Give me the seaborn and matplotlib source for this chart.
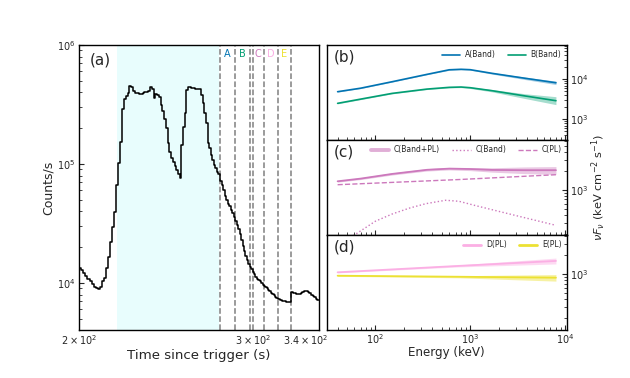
import numpy as np
import pandas as pd
import matplotlib
matplotlib.use("Agg")
import matplotlib.pyplot as plt
import matplotlib.ticker as mticker
import matplotlib.transforms as mtransforms
import seaborn as sns

# ---------------- data: light curve (1 s bins) ----------------
times = list(range(200, 351))
counts = [13500, 12800, 12200, 11500, 10900, 10300, 9800, 9300, 9000, 8900,
          9300, 10300, 11000, 13400, 16600, 22200, 29700, 39700, 66700, 101000,
          154000, 288000, 350000, 370000, 393000, 455000, 440000, 410000, 398000, 395000,
          390000, 388000, 395000, 400000, 405000, 413000, 440000, 430000, 357000, 388000,
          380000, 368000, 313000, 280000, 240000, 200000, 149000, 125000, 112000, 104000,
          97000, 89000, 83000, 77000, 145000, 205000, 267000, 419000, 447000, 440000,
          435000, 432000, 430000, 430000, 428000, 427000, 381000, 324000, 270000, 220000,
          149000, 135000, 120000, 108000, 98000, 92000, 86000, 83000, 72000, 66000,
          61000, 54000, 50000, 46000, 44000, 41000, 38500, 36000, 33500, 31000,
          28500, 26000, 23000, 20500, 18500, 17000, 15500, 14500, 13700, 13000,
          12300, 11800, 11300, 10900, 10600, 10300, 10000, 9700, 9500, 9200,
          9000, 8700, 8500, 8300, 8100, 7900, 7700, 7500, 7400, 7300,
          7200, 7100, 7000, 7000, 6950, 6900, 6900, 6880, 8450, 8400,
          8300, 8200, 8150, 8100, 8050, 8040, 8200, 8400, 8550, 8620,
          8600, 8450, 8300, 8190, 8000, 7850, 7700, 7580, 7400, 7250,
          7200]
shade_range = [218.7, 277.5]
interval_labels = ["A", "B", "C", "D", "E"]
interval_starts = [278, 288, 300, 308, 318]
interval_ends = [288, 298, 308, 318, 328]
time_ticks = [200, 300, 340]
time_ticklabels = [r"$2\times10^{2}$", r"$3\times10^{2}$", r"$3.4\times10^{2}$"]

# ---------------- data: spectra ----------------
E_ab = [40, 70, 150, 350, 600, 800, 1000, 1700, 3800, 8000]
A_mid = [4900, 6000, 8700, 13300, 17300, 17800, 17400, 14100, 10600, 8200]
A_lo = [4800, 5880, 8530, 13040, 16800, 17300, 16900, 13500, 9850, 7400]
A_hi = [5000, 6120, 8870, 13570, 17800, 18300, 17900, 14700, 11350, 9000]
B_mid = [2510, 3200, 4450, 5700, 6300, 6420, 6170, 5190, 3830, 2920]
B_lo = [2440, 3110, 4330, 5550, 6100, 6200, 5900, 4850, 3300, 2330]
B_hi = [2580, 3290, 4570, 5850, 6500, 6650, 6450, 5550, 4350, 3680]

E_c = [40, 70, 150, 350, 600, 1000, 1700, 3800, 8000]
C_tot = [1360, 1500, 1780, 2070, 2160, 2130, 2060, 2040, 2040]
C_tot_lo = [1320, 1450, 1710, 1980, 2060, 2010, 1900, 1800, 1750]
C_tot_hi = [1400, 1550, 1850, 2160, 2260, 2250, 2230, 2300, 2330]
E_cband = [40, 60, 100, 150, 230, 340, 550, 760, 1150, 2600, 8000]
C_band = [130, 191, 316, 411, 512, 600, 680, 655, 557, 411, 272]
E_pl = [40, 760, 8000]
C_pl = [1200, 1450, 1730]
D_pl = [1076, 1360, 1630]
D_lo = [1055, 1310, 1460]
D_hi = [1097, 1410, 1810]
E_plv = [950, 915, 884]
E_lo = [930, 880, 780]
E_hi = [970, 950, 990]

pal = sns.color_palette("colorblind")
cA, cB, cC, cD, cE = pal[0], pal[2], pal[4], pal[6], pal[8]
label_colors = [cA, cB, cC, cD, cE]

sns.set_theme(style="ticks", rc={
    "xtick.direction": "in", "ytick.direction": "in",
    "axes.edgecolor": "black", "axes.linewidth": 1.0,
    "xtick.labelsize": 7, "ytick.labelsize": 7,
    "xtick.major.size": 3.5, "ytick.major.size": 3.5,
    "xtick.minor.size": 2.0, "ytick.minor.size": 2.0,
    "xtick.major.width": 0.8, "ytick.major.width": 0.8,
    "xtick.minor.width": 0.6, "ytick.minor.width": 0.6,
    "xtick.major.pad": 1.5, "ytick.major.pad": 2.5,
})
plt.rcParams["font.family"] = ["DejaVu Sans"]

fig = plt.figure(figsize=(6.3, 3.78), dpi=100)
ax0 = fig.add_axes([0.1254, 0.127, 0.3814, 0.754])
axb = fig.add_axes([0.5186, 0.6296, 0.381, 0.2513])
axc = fig.add_axes([0.5186, 0.3783, 0.381, 0.2513])
axd = fig.add_axes([0.5186, 0.127, 0.381, 0.2513])

# ---------------- panel (a) ----------------
ax0.axvspan(shade_range[0], shade_range[1], color="#e8fdfd", lw=0, zorder=0)
lc = pd.DataFrame({"t": times, "c": counts})
sns.lineplot(data=lc, x="t", y="c", drawstyle="steps-post", color="black",
             lw=1.1, ax=ax0, estimator=None)
edges = sorted(set(interval_starts + interval_ends))
for e in edges:
    ax0.axvline(e, color="#808080", ls="--", lw=1.1, zorder=1)
trans = mtransforms.blended_transform_factory(ax0.transData, ax0.transAxes)
for lab, s, e, col in zip(interval_labels, interval_starts, interval_ends, label_colors):
    ax0.text(np.sqrt(s * e), 0.968, lab, color=col, fontsize=7, ha="center",
             va="center", transform=trans)
ax0.set_xscale("log")
ax0.set_yscale("log")
ax0.set_xlim(200, 350.5)
ax0.set_ylim(4030, 1e6)
ax0.xaxis.set_major_locator(mticker.FixedLocator(time_ticks))
ax0.xaxis.set_major_formatter(mticker.FixedFormatter(time_ticklabels))
ax0.xaxis.set_minor_locator(mticker.NullLocator())
ax0.tick_params(axis="x", length=0, pad=2.5)
ax0.tick_params(axis="y", which="both", direction="in", left=True, right=False)
ax0.set_xlabel("Time since trigger (s)", fontsize=9.6, labelpad=1.5)
ax0.set_ylabel("Counts/s", fontsize=9, labelpad=2)
ax0.text(0.046, 0.947, "(a)", transform=ax0.transAxes, fontsize=11, va="center")

# ---------------- panel (b) ----------------
def band(ax, x, lo, hi, col, alpha=0.35):
    ax.fill_between(x, lo, hi, color=col, alpha=alpha, lw=0)

sns.lineplot(x=E_ab, y=A_mid, color=cA, lw=1.2, ax=axb, label="A(Band)", estimator=None)
band(axb, E_ab, A_lo, A_hi, cA)
sns.lineplot(x=E_ab, y=B_mid, color=cB, lw=1.2, ax=axb, label="B(Band)", estimator=None)
band(axb, E_ab, B_lo, B_hi, cB)
axb.set_ylim(304, 72000)

# ---------------- panel (c) ----------------
sns.lineplot(x=E_c, y=C_tot, color=cC, lw=1.3, ax=axc, label="C(Band+PL)", estimator=None)
band(axc, E_c, C_tot_lo, C_tot_hi, cC, 0.4)
sns.lineplot(x=E_cband, y=C_band, color=cC, lw=1.0, ls=":", ax=axc, label="C(Band)", estimator=None)
sns.lineplot(x=E_pl, y=C_pl, color=cC, lw=1.0, ls="--", ax=axc, label="C(PL)", estimator=None)
axc.set_ylim(191, 6150)

# ---------------- panel (d) ----------------
sns.lineplot(x=E_pl, y=D_pl, color=cD, lw=1.3, ax=axd, label="D(PL)", estimator=None)
band(axd, E_pl, D_lo, D_hi, cD, 0.45)
sns.lineplot(x=E_pl, y=E_plv, color=cE, lw=1.3, ax=axd, label="E(PL)", estimator=None)
band(axd, E_pl, E_lo, E_hi, cE, 0.45)
axd.set_ylim(131, 4200)

for ax, tag, nc in [(axb, "(b)", 2), (axc, "(c)", 3), (axd, "(d)", 2)]:
    ax.set_xscale("log")
    ax.set_yscale("log")
    ax.set_xlim(30.7, 10400)
    ax.yaxis.tick_right()
    ax.tick_params(axis="both", which="both", direction="in")
    ax.tick_params(axis="x", which="both", top=False, bottom=True)
    ax.tick_params(axis="y", which="both", left=False, right=True)
    ax.set_xlabel("")
    ax.set_ylabel("")
    ax.legend(loc="upper right", ncol=nc, frameon=False, fontsize=5.5,
              handlelength=2.4, handletextpad=0.6, columnspacing=1.6,
              borderaxespad=0.3, borderpad=0.4)
    ax.text(0.0275, 0.877, tag, transform=ax.transAxes, fontsize=11, va="center")

for h in axc.get_legend().get_lines()[:1]:
    h.set_linewidth(2.8)
    h.set_alpha(0.6)
for h in axd.get_legend().get_lines():
    h.set_linewidth(2.0)

axb.tick_params(labelbottom=False)
axc.tick_params(labelbottom=False)
axd.set_xlabel("Energy (keV)", fontsize=8.6, labelpad=0)

fig.text(599 / 630, 1 - 187.5 / 378, r"$\nu F_\nu$ (keV cm$^{-2}$ s$^{-1}$)",
         rotation=90, va="center", ha="center", fontsize=8.2)

fig.savefig("out.png", dpi=100)
